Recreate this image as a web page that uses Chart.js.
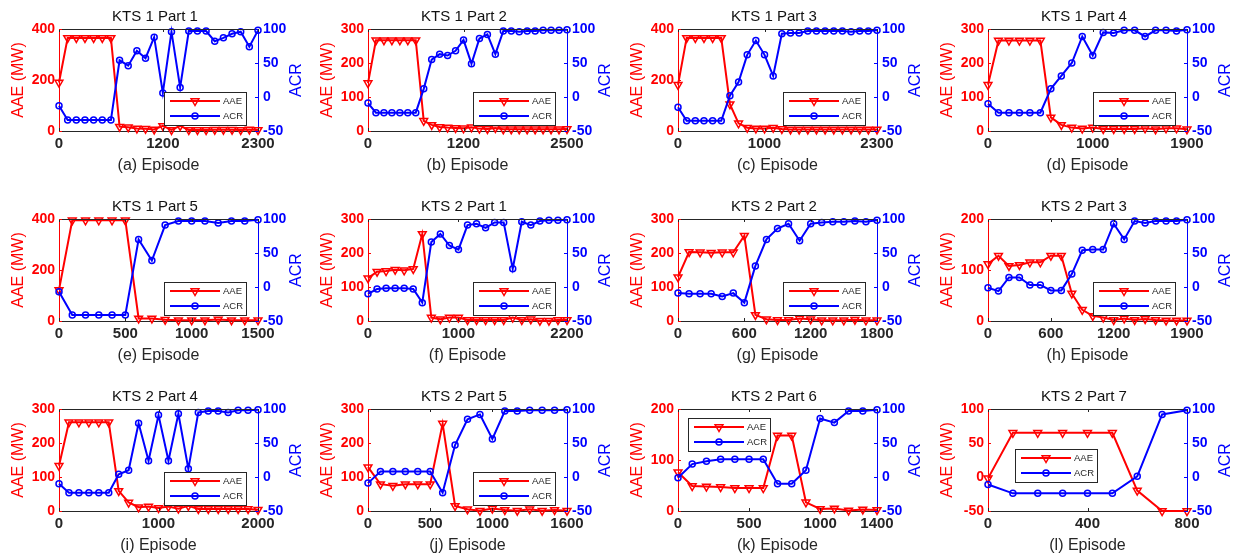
<!DOCTYPE html>
<html>
<head>
<meta charset="utf-8">
<script src="https://cdn.jsdelivr.net/npm/chart.js@4.4.0/dist/chart.umd.min.js"></script>
<style>
    body { margin: 0; background: #fff; }
    #wrap { position: relative; width: 1241px; height: 559px; overflow: hidden; }
    #wrap canvas { position: absolute; }
</style>
</head>
<body>
<div id="wrap"></div>
<script>
// Panel titles and x labels
const titles = ['KTS 1 Part 1', 'KTS 1 Part 2', 'KTS 1 Part 3', 'KTS 1 Part 4',
    'KTS 1 Part 5', 'KTS 2 Part 1', 'KTS 2 Part 2', 'KTS 2 Part 3',
    'KTS 2 Part 4', 'KTS 2 Part 5', 'KTS 2 Part 6', 'KTS 2 Part 7']
const xNames = ['(a) Episode', '(b) Episode', '(c) Episode', '(d) Episode',
    '(e) Episode', '(f) Episode', '(g) Episode', '(h) Episode',
    '(i) Episode', '(j) Episode', '(k) Episode', '(l) Episode']

// Episode axis (one point every 100 episodes)
const episodeStep = 100
const xMax = [2300, 2500, 2300, 1900, 1500, 2200, 1800, 1900, 2000, 1600, 1400, 800]
const xTicks = [
    [0, 1200, 2300], [0, 1200, 2500], [0, 1000, 2300], [0, 1000, 1900],
    [0, 500, 1000, 1500], [0, 1000, 2200], [0, 600, 1200, 1800], [0, 600, 1200, 1900],
    [0, 1000, 2000], [0, 500, 1000, 1600], [0, 500, 1000, 1400], [0, 400, 800]
]

// AAE (left) and ACR (right) axes
const aaeMin = [0, 0, 0, 0, 0, 0, 0, 0, 0, 0, 0, -50]
const aaeMax = [400, 300, 400, 300, 400, 300, 300, 200, 300, 300, 200, 100]
const aaeTicks = [
    [0, 200, 400], [0, 100, 200, 300], [0, 200, 400], [0, 100, 200, 300],
    [0, 200, 400], [0, 100, 200, 300], [0, 100, 200, 300], [0, 100, 200],
    [0, 100, 200, 300], [0, 100, 200, 300], [0, 100, 200], [-50, 0, 50, 100]
]
const acrTicks = [-50, 0, 50, 100]

// AAE series
const aaeA = [190, 365, 365, 365, 365, 365, 365, 17, 15, 10, 9, 6, 20, 4, 20, 4, 4, 4, 5, 5, 5, 4, 6, 4]
const aaeB = [141, 267, 267, 267, 267, 267, 267, 30, 18, 12, 10, 9, 8, 11, 7, 6, 9, 5, 5, 5, 5, 5, 5, 5, 5, 6]
const aaeC = [181, 365, 365, 365, 365, 365, 105, 30, 13, 10, 10, 13, 8, 6, 6, 6, 6, 6, 6, 6, 6, 6, 6, 6]
const aaeD = [136, 266, 266, 266, 266, 266, 40, 18, 10, 7, 10, 6, 6, 6, 6, 8, 5, 8, 8, 5]
const aaeE = [122, 395, 395, 395, 395, 395, 10, 10, 5, 3, 3, 3, 6, 3, 3, 3]
const aaeF = [126, 145, 147, 151, 149, 153, 256, 10, 5, 10, 10, 3, 3, 3, 3, 3, 10, 3, 5, 1, 1, 3, 3]
const aaeG = [129, 203, 202, 201, 202, 202, 251, 18, 5, 3, 3, 7, 5, 2, 2, 2, 4, 2, 2]
const aaeH = [112, 128, 108, 110, 115, 115, 128, 128, 54, 22, 10, 7, 2, 5, 2, 4, 2, 1, 1, 1]
const aaeI = [133, 261, 261, 261, 261, 261, 59, 25, 11, 13, 9, 13, 7, 15, 6, 6, 6, 6, 6, 6, 4]
const aaeJ = [129, 79, 74, 79, 79, 79, 257, 15, 5, 1, 7, 3, 1, 5, 1, 3, 1]
const aaeK = [76, 49, 48, 47, 45, 45, 45, 148, 148, 17, 4, 5, 1, 3, 2]
const aaeL = [-2, 65, 65, 65, 65, 65, -20, -50, -50]

// ACR series
const acrA = [-13, -34, -34, -34, -34, -34, -34, 54, 46, 68, 57, 88, 6, 96, 14, 97, 97, 97, 82, 87, 93, 96, 74, 98]
const acrB = [-9, -23, -23, -23, -23, -23, -23, 12, 55, 63, 61, 68, 84, 49, 86, 92, 63, 97, 97, 96, 97, 97, 98, 98, 98, 99]
const acrC = [-15, -35, -35, -35, -35, -35, 2, 22, 62, 83, 62, 31, 93, 94, 94, 97, 97, 97, 97, 97, 96, 97, 97, 98]
const acrD = [-10, -23, -23, -23, -23, -23, 12, 31, 50, 89, 61, 95, 94, 98, 98, 89, 98, 98, 97, 99]
const acrE = [-7, -41, -41, -41, -41, -41, 70, 39, 91, 97, 97, 97, 94, 97, 97, 99]
const acrF = [-10, -3, -2, -2, -2, -3, -23, 66, 78, 61, 55, 91, 93, 87, 95, 95, 27, 96, 91, 97, 98, 98, 99]
const acrG = [-9, -10, -10, -10, -14, -9, -23, 31, 70, 86, 93, 68, 93, 95, 96, 96, 97, 96, 98]
const acrH = [-1, -6, 14, 14, 3, 3, -5, -5, 19, 54, 55, 55, 93, 70, 97, 94, 97, 97, 97, 99]
const acrI = [-10, -23, -23, -23, -23, -23, 4, 10, 79, 24, 91, 24, 93, 12, 95, 97, 97, 95, 98, 98, 99]
const acrJ = [-9, 8, 8, 8, 8, 8, -23, 47, 85, 92, 56, 97, 97, 98, 98, 98, 99]
const acrK = [-1, 19, 23, 26, 26, 26, 26, -10, -10, 10, 86, 80, 97, 97, 99]
const acrL = [-11, -24, -24, -24, -24, -24, 1, 92, 98]

const aaeSets = [aaeA, aaeB, aaeC, aaeD, aaeE, aaeF, aaeG, aaeH, aaeI, aaeJ, aaeK, aaeL]
const acrSets = [acrA, acrB, acrC, acrD, acrE, acrF, acrG, acrH, acrI, acrJ, acrK, acrL]

const font = '"Liberation Sans", Arial, Helvetica, sans-serif'
const dark = '#262626'
Chart.defaults.font.family = font

function toPoints(arr) {
    return arr.map(function(v, k) {
        return { x: k * episodeStep, y: v }
    })
}

function drawMarker(ctx, style, x, y, color) {
    ctx.strokeStyle = color
    ctx.lineWidth = 1.5
    ctx.beginPath()
    if (style === 'triangle') {
        let r = 4.5
        ctx.moveTo(x, y + r)
        ctx.lineTo(x - r * 0.866, y - r * 0.5)
        ctx.lineTo(x + r * 0.866, y - r * 0.5)
        ctx.closePath()
    } else {
        ctx.arc(x, y, 3, 0, Math.PI * 2)
    }
    ctx.stroke()
}

// Box, inside ticks, right axis label and legend
const framePlugin = {
    id: 'frame',
    afterDraw(chart, args, opts) {
        const ctx = chart.ctx
        const a = chart.chartArea
        ctx.save()
        ctx.lineWidth = 1

        // top edge of the box
        ctx.strokeStyle = dark
        ctx.beginPath()
        ctx.moveTo(a.left, a.top + 0.5)
        ctx.lineTo(a.right, a.top + 0.5)
        ctx.stroke()

        // tick marks pointing inwards
        const sx = chart.scales.x, sy = chart.scales.y, sr = chart.scales.y1
        ctx.beginPath()
        sx.ticks.forEach(function(t) {
            let px = Math.round(sx.getPixelForValue(t.value)) + 0.5
            ctx.moveTo(px, a.bottom); ctx.lineTo(px, a.bottom - 3)
            ctx.moveTo(px, a.top); ctx.lineTo(px, a.top + 3)
        })
        ctx.stroke()
        ctx.strokeStyle = 'red'
        ctx.beginPath()
        sy.ticks.forEach(function(t) {
            let py = Math.round(sy.getPixelForValue(t.value)) + 0.5
            ctx.moveTo(a.left, py); ctx.lineTo(a.left + 3, py)
        })
        ctx.stroke()
        ctx.strokeStyle = 'blue'
        ctx.beginPath()
        sr.ticks.forEach(function(t) {
            let py = Math.round(sr.getPixelForValue(t.value)) + 0.5
            ctx.moveTo(a.right, py); ctx.lineTo(a.right - 3, py)
        })
        ctx.stroke()

        // right axis title, reads bottom to top
        ctx.save()
        ctx.translate(a.right + 39, (a.top + a.bottom) / 2)
        ctx.rotate(-Math.PI / 2)
        ctx.font = '16px ' + font
        ctx.fillStyle = 'blue'
        ctx.textAlign = 'center'
        ctx.textBaseline = 'middle'
        ctx.fillText('ACR', 0, 0)
        ctx.restore()

        // legend
        const w = 83, h = 34
        let bx, by
        if (opts.spot === 'nw') { bx = a.left + 10; by = a.top + 9 }
        else if (opts.spot === 'mid') { bx = a.left + 27; by = a.top + 40 }
        else { bx = a.right - 11 - w; by = a.bottom - 5 - h }
        bx = Math.round(bx); by = Math.round(by)
        ctx.fillStyle = '#fff'
        ctx.fillRect(bx, by, w, h)
        ctx.strokeStyle = dark
        ctx.strokeRect(bx + 0.5, by + 0.5, w - 1, h - 1)
        ctx.font = '9.5px ' + font
        ctx.textAlign = 'left'
        ctx.textBaseline = 'middle'
        chart.data.datasets.forEach(function(ds, j) {
            let ly = by + 9 + j * 15
            ctx.strokeStyle = ds.borderColor
            ctx.lineWidth = 2
            ctx.beginPath()
            ctx.moveTo(bx + 6, ly); ctx.lineTo(bx + 56, ly)
            ctx.stroke()
            drawMarker(ctx, ds.pointStyle, bx + 31, ly, ds.borderColor)
            ctx.fillStyle = dark
            ctx.fillText(ds.label, bx + 59, ly)
        })
        ctx.restore()
    }
}

const colLeft = [0, 309, 619, 929]
const rowTop = [0, 190, 380]

function makePanel(i) {
    let cv = document.createElement('canvas')
    cv.width = 310
    cv.height = 179
    cv.style.left = colLeft[i % 4] + 'px'
    cv.style.top = rowTop[Math.floor(i / 4)] + 'px'
    document.getElementById('wrap').appendChild(cv)

    let spot = 'se'
    if (i === 10) spot = 'nw'
    if (i === 11) spot = 'mid'

    new Chart(cv, {
        type: 'line',
        data: {
            datasets: [{
                label: 'AAE',
                data: toPoints(aaeSets[i]),
                yAxisID: 'y',
                order: 2,
                borderColor: 'red',
                borderWidth: 2,
                pointStyle: 'triangle',
                pointRotation: 180,
                pointRadius: 4.5,
                pointBorderWidth: 1.5,
                pointBorderColor: 'red',
                pointBackgroundColor: 'rgba(0,0,0,0)',
                tension: 0,
                clip: false
            },
            {
                label: 'ACR',
                data: toPoints(acrSets[i]),
                yAxisID: 'y1',
                order: 1,
                borderColor: 'blue',
                borderWidth: 2,
                pointStyle: 'circle',
                pointRadius: 3,
                pointBorderWidth: 1.5,
                pointBorderColor: 'blue',
                pointBackgroundColor: 'rgba(0,0,0,0)',
                tension: 0,
                clip: false
            }]
        },
        options: {
            responsive: false,
            animation: false,
            events: [],
            layout: { padding: 0 },
            scales: {
                x: {
                    type: 'linear',
                    min: 0,
                    max: xMax[i],
                    grid: { display: false, drawTicks: false },
                    border: { color: dark, width: 1 },
                    ticks: {
                        color: dark,
                        font: { size: 15, weight: 'bold' },
                        padding: 4,
                        maxRotation: 0,
                        autoSkip: false,
                        callback: function(v) { return String(v) }
                    },
                    afterBuildTicks: function(s) {
                        s.ticks = xTicks[i].map(function(v) { return { value: v } })
                    },
                    afterFit: function(s) { s.height = 48 },
                    title: {
                        display: true,
                        text: xNames[i],
                        color: dark,
                        font: { size: 16 },
                        padding: { top: 0, bottom: 4 }
                    }
                },
                y: {
                    position: 'left',
                    min: aaeMin[i],
                    max: aaeMax[i],
                    grid: { display: false, drawTicks: false },
                    border: { color: 'red', width: 1 },
                    ticks: {
                        color: 'red',
                        font: { size: 14, weight: 'bold' },
                        padding: 4,
                        callback: function(v) { return String(v) }
                    },
                    afterBuildTicks: function(s) {
                        s.ticks = aaeTicks[i].map(function(v) { return { value: v } })
                    },
                    afterFit: function(s) { s.width = 59 },
                    title: {
                        display: true,
                        text: 'AAE (MW)',
                        color: 'red',
                        font: { size: 16 },
                        padding: { top: 9, bottom: 0 }
                    }
                },
                y1: {
                    position: 'right',
                    min: -50,
                    max: 100,
                    grid: { display: false, drawTicks: false },
                    border: { color: 'blue', width: 1 },
                    ticks: {
                        color: 'blue',
                        font: { size: 14, weight: 'bold' },
                        padding: 5,
                        callback: function(v) { return String(v) }
                    },
                    afterBuildTicks: function(s) {
                        s.ticks = acrTicks.map(function(v) { return { value: v } })
                    },
                    afterFit: function(s) { s.width = 52 }
                }
            },
            plugins: {
                legend: { display: false },
                tooltip: { enabled: false },
                title: {
                    display: true,
                    text: titles[i],
                    color: '#111',
                    font: { size: 15, weight: 'normal' },
                    padding: { top: 8, bottom: 3 }
                },
                frame: { spot: spot }
            }
        },
        plugins: [framePlugin]
    })
}

for (let i = 0; i < 12; i++) {
    makePanel(i)
}
</script>
</body>
</html>
